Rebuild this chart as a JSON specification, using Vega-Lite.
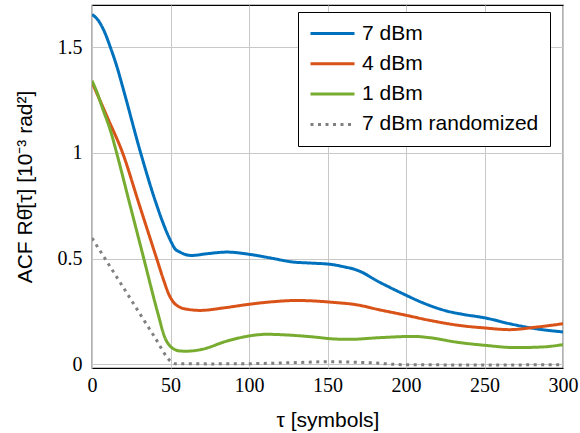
{
  "$schema": "https://vega.github.io/schema/vega-lite/v6.json",
  "width": 471,
  "height": 363,
  "autosize": "none",
  "padding": {"left": 92, "top": 5, "right": 17, "bottom": 65},
  "background": "white",
  "config": {
    "view": {"stroke": "black", "strokeWidth": 1.2},
    "axis": {
      "labelFont": "Liberation Serif",
      "labelFontSize": 20,
      "labelColor": "black",
      "titleFont": "Liberation Sans",
      "titleFontSize": 21,
      "titleFontWeight": "normal",
      "titleColor": "black",
      "gridColor": "#c8c8c8",
      "gridWidth": 1,
      "domain": false,
      "ticks": false
    }
  },
  "data": {
    "values": [
      {"s": "7 dBm", "x": 0, "y": 1.655},
      {"s": "7 dBm", "x": 4, "y": 1.627},
      {"s": "7 dBm", "x": 8, "y": 1.572},
      {"s": "7 dBm", "x": 11.7, "y": 1.5},
      {"s": "7 dBm", "x": 16, "y": 1.405},
      {"s": "7 dBm", "x": 20, "y": 1.3},
      {"s": "7 dBm", "x": 31, "y": 1.0},
      {"s": "7 dBm", "x": 40, "y": 0.78},
      {"s": "7 dBm", "x": 47.6, "y": 0.625},
      {"s": "7 dBm", "x": 50.7, "y": 0.575},
      {"s": "7 dBm", "x": 52.5, "y": 0.55},
      {"s": "7 dBm", "x": 56, "y": 0.531},
      {"s": "7 dBm", "x": 63.5, "y": 0.515},
      {"s": "7 dBm", "x": 73, "y": 0.523},
      {"s": "7 dBm", "x": 86, "y": 0.531},
      {"s": "7 dBm", "x": 100.6, "y": 0.52},
      {"s": "7 dBm", "x": 113, "y": 0.504},
      {"s": "7 dBm", "x": 128, "y": 0.484},
      {"s": "7 dBm", "x": 139, "y": 0.479},
      {"s": "7 dBm", "x": 152, "y": 0.473},
      {"s": "7 dBm", "x": 160, "y": 0.462},
      {"s": "7 dBm", "x": 169, "y": 0.445},
      {"s": "7 dBm", "x": 183, "y": 0.389},
      {"s": "7 dBm", "x": 198, "y": 0.334},
      {"s": "7 dBm", "x": 211, "y": 0.29},
      {"s": "7 dBm", "x": 226, "y": 0.252},
      {"s": "7 dBm", "x": 236.5, "y": 0.236},
      {"s": "7 dBm", "x": 250, "y": 0.22},
      {"s": "7 dBm", "x": 266, "y": 0.192},
      {"s": "7 dBm", "x": 283, "y": 0.168},
      {"s": "7 dBm", "x": 300, "y": 0.153},

      {"s": "4 dBm", "x": 0, "y": 1.334},
      {"s": "4 dBm", "x": 5, "y": 1.25},
      {"s": "4 dBm", "x": 10, "y": 1.165},
      {"s": "4 dBm", "x": 19.5, "y": 1.0},
      {"s": "4 dBm", "x": 30, "y": 0.758},
      {"s": "4 dBm", "x": 41.2, "y": 0.5},
      {"s": "4 dBm", "x": 46, "y": 0.39},
      {"s": "4 dBm", "x": 49, "y": 0.33},
      {"s": "4 dBm", "x": 52, "y": 0.293},
      {"s": "4 dBm", "x": 56, "y": 0.27},
      {"s": "4 dBm", "x": 61, "y": 0.26},
      {"s": "4 dBm", "x": 69, "y": 0.255},
      {"s": "4 dBm", "x": 84, "y": 0.267},
      {"s": "4 dBm", "x": 100, "y": 0.284},
      {"s": "4 dBm", "x": 115, "y": 0.296},
      {"s": "4 dBm", "x": 130, "y": 0.302},
      {"s": "4 dBm", "x": 143, "y": 0.299},
      {"s": "4 dBm", "x": 152, "y": 0.294},
      {"s": "4 dBm", "x": 169, "y": 0.281},
      {"s": "4 dBm", "x": 183, "y": 0.258},
      {"s": "4 dBm", "x": 200, "y": 0.232},
      {"s": "4 dBm", "x": 215, "y": 0.208},
      {"s": "4 dBm", "x": 236, "y": 0.182},
      {"s": "4 dBm", "x": 250, "y": 0.172},
      {"s": "4 dBm", "x": 266, "y": 0.164},
      {"s": "4 dBm", "x": 283, "y": 0.176},
      {"s": "4 dBm", "x": 300, "y": 0.192},

      {"s": "1 dBm", "x": 0, "y": 1.342},
      {"s": "1 dBm", "x": 3, "y": 1.29},
      {"s": "1 dBm", "x": 7, "y": 1.205},
      {"s": "1 dBm", "x": 12, "y": 1.1},
      {"s": "1 dBm", "x": 15.7, "y": 1.0},
      {"s": "1 dBm", "x": 24, "y": 0.76},
      {"s": "1 dBm", "x": 33, "y": 0.5},
      {"s": "1 dBm", "x": 42, "y": 0.24},
      {"s": "1 dBm", "x": 46.5, "y": 0.125},
      {"s": "1 dBm", "x": 49.5, "y": 0.088},
      {"s": "1 dBm", "x": 52, "y": 0.073},
      {"s": "1 dBm", "x": 56, "y": 0.063},
      {"s": "1 dBm", "x": 60, "y": 0.062},
      {"s": "1 dBm", "x": 69, "y": 0.069},
      {"s": "1 dBm", "x": 86, "y": 0.11},
      {"s": "1 dBm", "x": 100, "y": 0.134},
      {"s": "1 dBm", "x": 111, "y": 0.142},
      {"s": "1 dBm", "x": 128, "y": 0.137},
      {"s": "1 dBm", "x": 143, "y": 0.128},
      {"s": "1 dBm", "x": 152, "y": 0.121},
      {"s": "1 dBm", "x": 164, "y": 0.118},
      {"s": "1 dBm", "x": 183, "y": 0.126},
      {"s": "1 dBm", "x": 205, "y": 0.132},
      {"s": "1 dBm", "x": 215, "y": 0.126},
      {"s": "1 dBm", "x": 232, "y": 0.105},
      {"s": "1 dBm", "x": 250, "y": 0.09},
      {"s": "1 dBm", "x": 270, "y": 0.079},
      {"s": "1 dBm", "x": 287, "y": 0.082},
      {"s": "1 dBm", "x": 300, "y": 0.093},

      {"s": "7 dBm randomized", "x": 0, "y": 0.597},
      {"s": "7 dBm randomized", "x": 10, "y": 0.48},
      {"s": "7 dBm randomized", "x": 20, "y": 0.363},
      {"s": "7 dBm randomized", "x": 30, "y": 0.245},
      {"s": "7 dBm randomized", "x": 40, "y": 0.128},
      {"s": "7 dBm randomized", "x": 50, "y": 0.015},
      {"s": "7 dBm randomized", "x": 53, "y": 0.003},
      {"s": "7 dBm randomized", "x": 75, "y": 0.002},
      {"s": "7 dBm randomized", "x": 100, "y": 0.003},
      {"s": "7 dBm randomized", "x": 130, "y": 0.008},
      {"s": "7 dBm randomized", "x": 150, "y": 0.012},
      {"s": "7 dBm randomized", "x": 175, "y": 0.008},
      {"s": "7 dBm randomized", "x": 200, "y": -0.002},
      {"s": "7 dBm randomized", "x": 250, "y": -0.003},
      {"s": "7 dBm randomized", "x": 300, "y": -0.002}
    ]
  },
  "mark": {"type": "line", "strokeWidth": 3, "interpolate": "monotone", "clip": true},
  "encoding": {
    "x": {
      "field": "x", "type": "quantitative",
      "scale": {"domain": [0, 300], "nice": false},
      "axis": {"values": [0, 50, 100, 150, 200, 250, 300], "labelFlush": false, "labelPadding": 7, "titlePadding": 14, "title": "τ [symbols]"}
    },
    "y": {
      "field": "y", "type": "quantitative",
      "scale": {"domain": [-0.0175, 1.7], "nice": false, "zero": false},
      "axis": {"values": [0, 0.5, 1, 1.5], "labelExpr": "'' + datum.value", "labelPadding": 10, "titlePadding": 22, "title": "ACF Rθ̄[τ] [10⁻³ rad²]"}
    },
    "color": {
      "field": "s", "type": "nominal",
      "scale": {"domain": ["7 dBm", "4 dBm", "1 dBm", "7 dBm randomized"], "range": ["#0072BD", "#D95319", "#77AC30", "#808080"]},
      "legend": {
        "title": null,
        "orient": "none",
        "legendX": 206,
        "legendY": 7,
        "symbolType": "M-4,0H4",
        "symbolSize": 121,
        "symbolStrokeWidth": 3,
        "symbolOffset": 13,
        "labelFont": "Liberation Sans",
        "labelFontSize": 21,
        "labelColor": "black",
        "labelOffset": 19,
        "labelLimit": 300,
        "rowPadding": 8.3,
        "padding": 11,
        "strokeColor": "black",
        "fillColor": "white",
        "cornerRadius": 0
      }
    },
    "strokeDash": {
      "field": "s", "type": "nominal",
      "scale": {"domain": ["7 dBm", "4 dBm", "1 dBm", "7 dBm randomized"], "range": [[1, 0], [1, 0], [1, 0], [3, 4.5]]},
      "legend": null
    }
  }
}
